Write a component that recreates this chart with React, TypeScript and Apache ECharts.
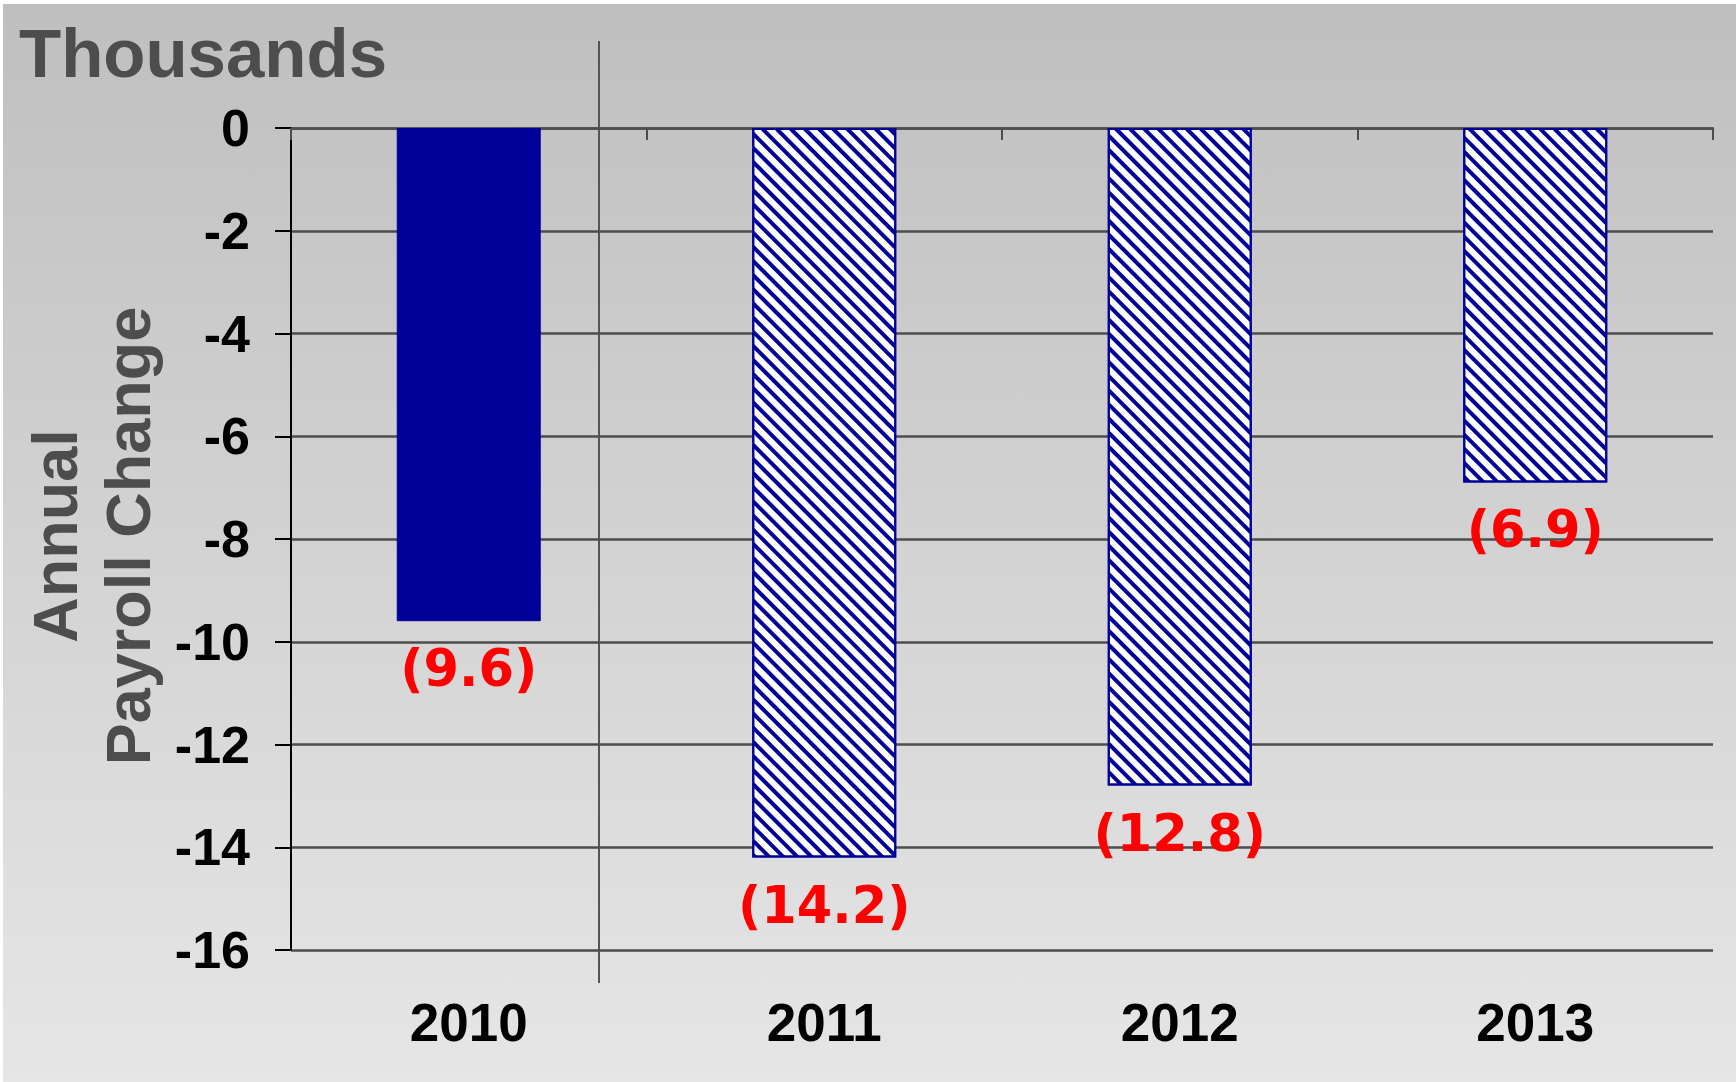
import React, { useEffect, useRef } from "react";
import * as echarts from "echarts";

const categories = ["2010", "2011", "2012", "2013"];
const payrollChange = [-9.6, -14.2, -12.8, -6.9];
const hatched = [false, true, true, true];
const yTicks = { min: -16, max: 0, interval: 2 };
const titleText = "Thousands";
const yAxisTitle = "Annual\nPayroll Change";

export default function App() {
  const ref = useRef<HTMLDivElement>(null);
  useEffect(() => {
    if (!ref.current) return;
    const chart = echarts.init(ref.current, undefined, { renderer: "svg" });
    const navy = "#000099";
    const data = payrollChange.map((v, i) =>
      hatched[i]
        ? {
            value: v,
            itemStyle: {
              color: "#ffffff",
              borderColor: navy,
              borderWidth: 2,
              decal: {
                symbol: "rect",
                symbolSize: 1,
                dashArrayX: [1, 0],
                dashArrayY: [4, 6],
                rotation: Math.PI / 4,
                color: navy,
              },
            },
          }
        : { value: v, itemStyle: { color: navy, borderColor: navy, borderWidth: 1 } }
    );
    chart.setOption({
      animation: false,
      backgroundColor: "transparent",
      grid: { left: 291, top: 128, right: 23, bottom: 132, containLabel: false },
      xAxis: [
        {
          type: "category",
          data: categories,
          position: "bottom",
          axisLine: { show: false, onZero: false },
          axisTick: { show: false },
          axisLabel: {
            margin: 46,
            color: "#000",
            fontFamily: "Liberation Sans, Arial, sans-serif",
            fontWeight: "bold",
            fontSize: 53,
          },
        },
        {
          type: "category",
          data: categories,
          position: "top",
          axisLine: { show: true, onZero: false, lineStyle: { color: "#4d4d4d", width: 2.5 } },
          axisTick: { show: true, inside: true, length: 12, lineStyle: { color: "#4d4d4d", width: 2 } },
          axisLabel: { show: false },
        },
      ],
      yAxis: {
        type: "value",
        min: yTicks.min,
        max: yTicks.max,
        interval: yTicks.interval,
        axisLine: { show: true, lineStyle: { color: "#000", width: 2 } },
        axisTick: { show: true, length: 16, lineStyle: { color: "#000", width: 2 } },
        axisLabel: {
          margin: 41,
          color: "#000",
          fontFamily: "Liberation Sans, Arial, sans-serif",
          fontWeight: "bold",
          fontSize: 52,
        },
        splitLine: { show: true, lineStyle: { color: "#4d4d4d", width: 2.5 } },
      },
      series: [
        {
          type: "bar",
          xAxisIndex: 0,
          data,
          barWidth: "40.5%",
          label: {
            show: true,
            position: "bottom",
            distance: 22,
            color: "#ff0000",
            fontFamily: "DejaVu Sans, Verdana, sans-serif",
            fontWeight: "bold",
            fontSize: 51,
            formatter: (p: any) => "(" + Math.abs(p.value).toFixed(1) + ")",
          },
        },
      ],
      graphic: [
        {
          type: "text",
          x: 19,
          y: 53,
          style: {
            text: titleText,
            fill: "#4d4d4d",
            fontFamily: "Liberation Sans, Arial, sans-serif",
            fontWeight: "bold",
            fontSize: 69,
            align: "left",
            verticalAlign: "middle",
          },
        },
        {
          type: "text",
          x: 91,
          y: 536,
          rotation: Math.PI / 2,
          style: {
            text: yAxisTitle,
            fill: "#4d4d4d",
            fontFamily: "Liberation Sans, Arial, sans-serif",
            fontWeight: "bold",
            fontSize: 63,
            lineHeight: 73,
            align: "center",
            verticalAlign: "middle",
          },
        },
        {
          type: "line",
          shape: { x1: 599, y1: 41, x2: 599, y2: 983 },
          style: { stroke: "#555", lineWidth: 2 },
        },
      ],
    });
    return () => chart.dispose();
  }, []);
  return (
    <div style={{ position: "absolute", left: 0, top: 0, width: 1736, height: 1082, background: "#fff" }}>
      <div
        style={{
          position: "absolute",
          left: 3,
          top: 4,
          right: 0,
          bottom: 0,
          background: "linear-gradient(to bottom, #bfbfbf 0%, #e6e6e6 100%)",
        }}
      />
      <div ref={ref} style={{ position: "absolute", left: 0, top: 0, width: 1736, height: 1082 }} />
    </div>
  );
}
